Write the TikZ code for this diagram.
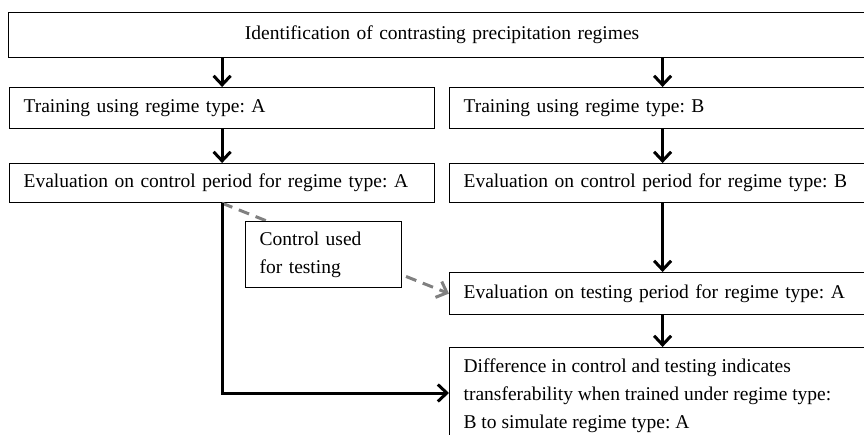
\documentclass[tikz,border=0pt]{standalone}
\usepackage{fontspec}
\setmainfont{Liberation Serif}
\usetikzlibrary{arrows.meta}
\frenchspacing
\begin{document}
\begin{tikzpicture}[x=1pt,y=-1pt,
  box/.style={draw, line width=1.2pt, fill=white, inner xsep=14pt, inner ysep=0pt,
    align=left, anchor=north west, font=\fontsize{19.5}{28}\selectfont},
  flow/.style={line width=3pt, -{Straight Barb[length=9pt,width=17pt]}},
  dashflow/.style={line width=3pt, color=black!50, dash pattern=on 11pt off 7pt,
    -{Straight Barb[length=9pt,width=17pt]}}]
\useasboundingbox (0,0) rectangle (864,435);
\node[box, align=center, text width=839pt, minimum height=45pt] (top) at (8,12)
  {Identification of contrasting precipitation regimes};
\node[box, text width=397pt, minimum height=41pt] (trainA) at (9,87)
  {Training using regime type: A};
\node[box, text width=398pt, minimum height=41pt] (trainB) at (449,87)
  {Training using regime type: B};
\node[box, text width=397pt, minimum height=39pt] (evalA) at (9,163)
  {Evaluation on control period for regime type: A};
\node[box, text width=398pt, minimum height=39pt] (evalB) at (449,163)
  {Evaluation on control period for regime type: B};
\node[box, text width=398pt, minimum height=42pt] (testA) at (449,272)
  {Evaluation on testing period for regime type: A};
\node[box, inner ysep=11pt] (diff) at (449,347)
  {\parbox[b][100pt][t]{398pt}{\raggedright Difference in control and testing indicates\\
   transferability when trained under regime type:\\ B to simulate regime type: A}};
\draw[dashflow] (evalA.south) -- (testA.west);
\node[box, text width=128pt, minimum height=66pt] (ctrl) at (245,221)
  {Control used\\for testing};
\draw[flow] (top.south -| trainA.north) -- (trainA.north);
\draw[flow] (top.south -| trainB.north) -- (trainB.north);
\draw[flow] (trainA.south) -- (evalA.north);
\draw[flow] (trainB.south) -- (evalB.north);
\draw[flow] (evalB.south) -- (testA.north);
\draw[flow] (testA.south) -- (diff.north -| testA.south);
\draw[flow] (evalA.south) |- ([yshift=-46pt]diff.north west);
\end{tikzpicture}
\end{document}
